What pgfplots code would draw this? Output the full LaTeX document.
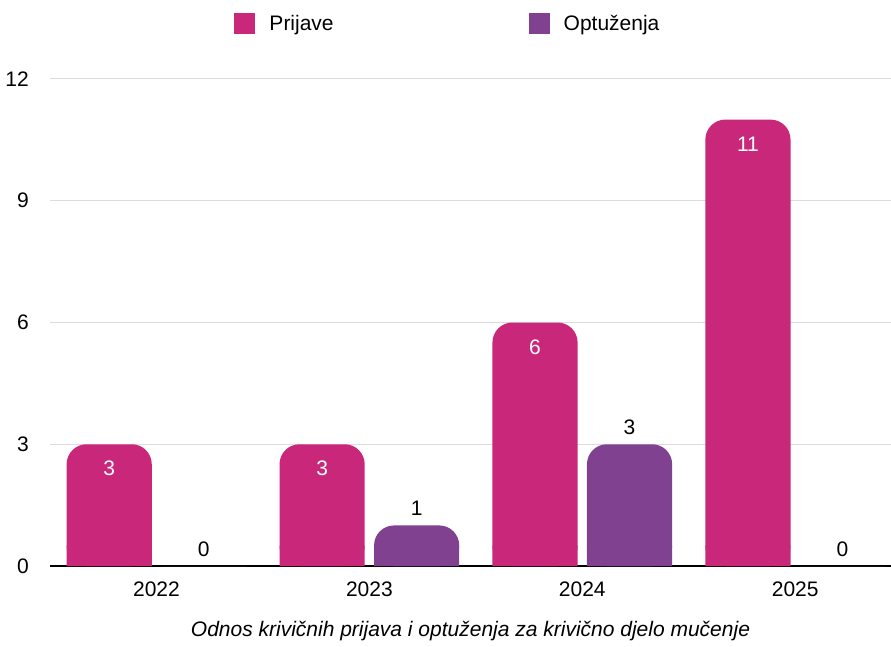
\documentclass[border=0pt]{standalone}
\usepackage{pgfplots}
\usepackage{pgfplotstable}
\pgfplotsset{compat=1.18}
\usepackage{fontspec}
\setmainfont{Liberation Sans}

\definecolor{prijave}{RGB}{201,40,122}
\definecolor{optuzenja}{RGB}{129,65,145}
\definecolor{gridgray}{RGB}{220,220,220}
\newcommand{\chartfont}{\fontsize{15.75}{18}\selectfont}

% year, reports (Prijave), indictments (Optuzenja)
\pgfplotstableread{
year prijave optuzenja
2022 3 0
2023 3 1
2024 6 3
2025 11 0
}\datatable

\begin{document}
\begin{tikzpicture}
\begin{axis}[
    scale only axis,
    width=630.75pt, height=365.25pt,
    xmin=-0.5, xmax=3.45,
    ymin=0, ymax=12,
    ytick={0,3,6,9,12},
    xtick={0,1,2,3},
    xticklabels={2022,2023,2024,2025},
    ymajorgrids,
    grid style={gridgray, line width=0.75pt},
    major tick length=0pt,
    axis x line*=bottom,
    axis y line*=left,
    y axis line style={draw=none},
    x axis line style={black, line width=1.5pt, -},
    tick label style={font=\chartfont},
    /pgf/number format/assume math mode=true,
    yticklabel style={anchor=east, inner sep=0pt, xshift=-15.75pt},
    xticklabel style={anchor=center, inner sep=0pt, yshift=-17.25pt},
    xlabel={Odnos krivičnih prijava i optuženja za krivično djelo mučenje},
    xlabel style={font=\chartfont\itshape, at={(axis description cs:0.5,0)}, anchor=base, inner sep=0pt, yshift=-52.5pt},
    bar width=0.4,
    legend columns=2,
    legend style={draw=none, fill=none, font=\chartfont,
        at={(axis description cs:0.472,1)}, anchor=center, yshift=41.6pt,
        inner sep=0pt, nodes={inner sep=0pt},
        /tikz/every odd column/.append style={column sep=10.5pt},
        /tikz/every even column/.append style={column sep=146.25pt}},
]
% square bottoms under the rounded bars
\addplot[ybar, bar shift=0pt, fill=prijave, draw=none, forget plot,
    y filter/.expression={min(y,0.5)}]
    table[x expr=\coordindex-0.222, y=prijave] {\datatable};
\addplot[ybar, bar shift=0pt, fill=optuzenja, draw=none, forget plot,
    y filter/.expression={min(y,0.5)}]
    table[x expr=\coordindex+0.222, y=optuzenja] {\datatable};

% rounded bars
\addplot[ybar, bar shift=0pt, fill=prijave, draw=none, rounded corners=15pt,
    nodes near coords,
    every node near coord/.append style={white, font=\chartfont, anchor=south, inner sep=0pt, yshift=-24pt},
    legend image code/.code={\fill[prijave, sharp corners] (0pt,-7.875pt) rectangle (15.75pt,7.875pt);}]
    table[x expr=\coordindex-0.222, y=prijave] {\datatable};
\addlegendentry{Prijave}
\addplot[ybar, bar shift=0pt, fill=optuzenja, draw=none, rounded corners=15pt,
    restrict y to domain=0.5:100,
    legend image code/.code={\fill[optuzenja, sharp corners] (0pt,-7.875pt) rectangle (15.75pt,7.875pt);}]
    table[x expr=\coordindex+0.222, y=optuzenja] {\datatable};
\addlegendentry{Optuženja}

% labels for the second series, zeros included
\addplot[ybar, bar shift=0pt, draw=none, fill=none, forget plot,
    nodes near coords,
    every node near coord/.append style={black, font=\chartfont, anchor=south, inner sep=0pt, yshift=7pt}]
    table[x expr=\coordindex+0.222, y=optuzenja] {\datatable};

\coordinate (bl) at (rel axis cs:0,0);
\coordinate (tr) at (rel axis cs:1,1);
\end{axis}
\pgfresetboundingbox
\path ([xshift=-37.5pt,yshift=-60pt]bl) rectangle ([yshift=59.25pt]tr);
\end{tikzpicture}
\end{document}
